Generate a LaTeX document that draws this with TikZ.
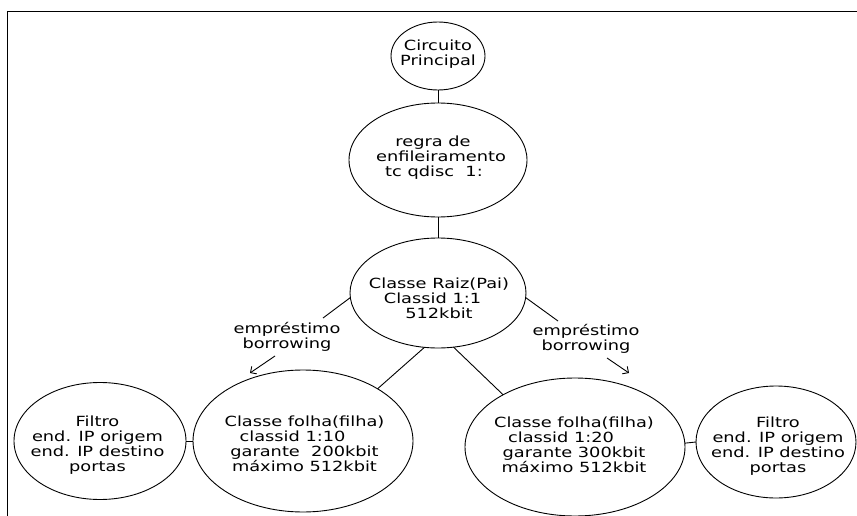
\documentclass[tikz,border=0pt]{standalone}
\usepackage{fontspec}
\usetikzlibrary{shapes.geometric,arrows.meta}
\newfontfamily\lbl{DejaVu Sans}[FakeStretch=1.27]
% invisible padding that shifts a centred line sideways
\newcommand\padr[1]{\rule{#1}{0pt}}
\tikzset{
  bub/.style={draw=black, line width=0.9pt, ellipse, inner sep=0pt, outer sep=0pt},
  txt/.style={font={\lbl\fontsize{14pt}{15pt}\selectfont}, align=center, inner sep=0pt, text=black},
  link/.style={draw=black, line width=0.9pt},
  lend/.style={link, -{Straight Barb[length=4.5pt,width=9pt]}}
}
\begin{document}
\begin{tikzpicture}[x=1pt,y=-1pt]
\useasboundingbox (0,0) rectangle (857,516);
\fill[white] (0,0) rectangle (857,516);
% frame (top and left edges only)
\draw[line width=1.6pt] (857,11.5) -- (7.5,11.5) -- (7.5,516);

% ellipses
\node[bub, minimum width=94pt,  minimum height=68pt]  (circ)  at (438,56)  {};
\node[bub, minimum width=178pt, minimum height=114pt] (regra) at (438,160) {};
\node[bub, minimum width=176pt, minimum height=110pt] (raiz)  at (438,293) {};
\node[bub, minimum width=220pt, minimum height=142pt] (lf)    at (303,441) {};
\node[bub, minimum width=172pt, minimum height=117pt] (lfil)  at (100,441) {};
\node[bub, minimum width=220pt, minimum height=138pt] (rf)    at (575,447) {};
\node[bub, minimum width=160pt, minimum height=112pt] (rfil)  at (776,442) {};

% texts
\node[txt] (circ-t)  at (438,54)    {Circuito\\Principal};
\node[txt] (regra-t) at (441,158)   {regra de\padr{16pt}\\enfileiramento\\tc qdisc~ 1:\padr{14pt}};
\node[txt] (raiz-t)  at (439,298)   {Classe Raiz(Pai)\\Classid 1:1\padr{13pt}\\512kbit};
\node[txt] (lf-t)    at (304.5,443.5) {Classe folha(filha)\\classid 1:10\padr{24pt}\\garante~ 200kbit\\máximo 512kbit};
\node[txt] (rf-t)    at (574,444.5) {Classe folha(filha)\\classid 1:20\padr{26pt}\\garante 300kbit\\máximo 512kbit};
\node[txt] (lfil-t)  at (97.5,445)  {Filtro\\end. IP origem\\end. IP destino\\portas};
\node[txt] (rfil-t)  at (778,446)   {Filtro\\end. IP origem\\end. IP destino\\portas};
\node[txt] (bl-t)    at (287,337)   {empréstimo\\borrowing};
\node[txt] (br-t)    at (586,339)   {empréstimo\\borrowing};

% tree connectors
\draw[link] (circ) -- (regra);
\draw[link] (regra) -- (raiz);
\draw[link] (raiz.-104) -- (lf.35);
\draw[link] (raiz.-74) -- (rf.144.5);
\draw[link] (lfil.east) -- (lf.west);
\draw[link] (rf.2.6) -- (rfil.west);

% borrowing arrows
\coordinate (bl1) at (323,318);
\coordinate (bl2) at (275,356);
\coordinate (bl3) at (250,373);
\coordinate (br1) at (558,321);
\coordinate (br2) at (607,358);
\coordinate (br3) at (629,373);
\draw[link] (raiz.183) -- (bl1);
\draw[lend] (bl2) -- (bl3);
\draw[link] (raiz.-3) -- (br1);
\draw[lend] (br2) -- (br3);
\end{tikzpicture}
\end{document}
